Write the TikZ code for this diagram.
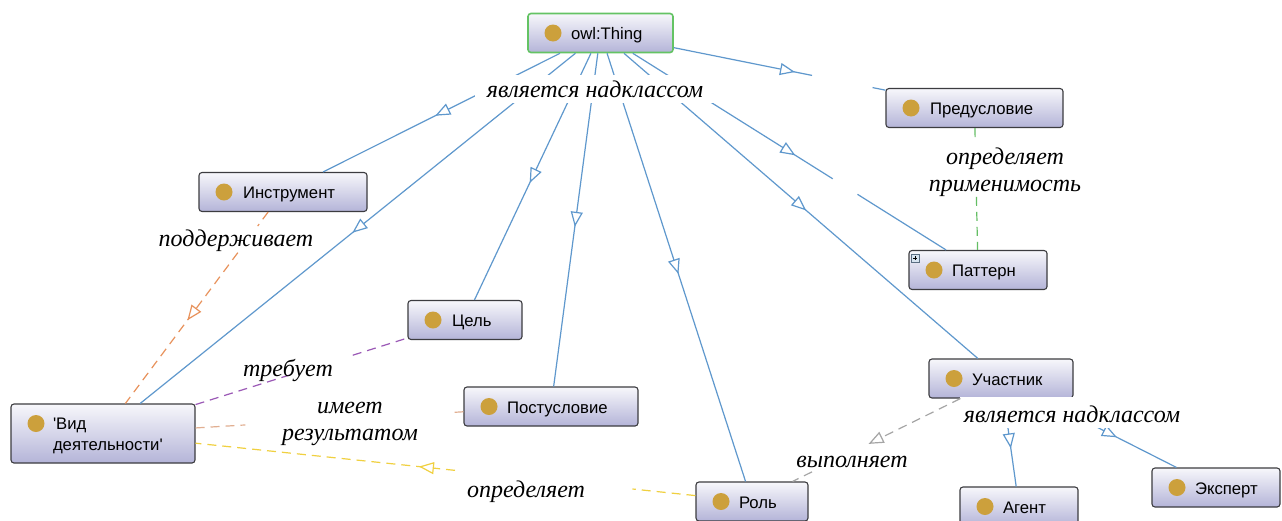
\documentclass[tikz,border=0pt]{standalone}
\usepackage{fontspec}
\setmainfont{Liberation Serif}
\newfontfamily\clsfont{Liberation Sans}
\usetikzlibrary{arrows.meta,decorations.markings,calc}
\definecolor{edgeblue}{RGB}{95,152,205}
\definecolor{boxtop}{RGB}{247,247,251}
\definecolor{boxbot}{RGB}{180,180,216}
\definecolor{boxline}{RGB}{60,60,64}
\definecolor{gold}{RGB}{204,160,60}
\definecolor{thinggreen}{RGB}{100,195,100}
\definecolor{eorange}{RGB}{232,146,92}
\definecolor{epurple}{RGB}{155,89,182}
\definecolor{etan}{RGB}{225,175,145}
\definecolor{eyellow}{RGB}{240,208,64}
\definecolor{egray}{RGB}{165,165,165}
\definecolor{egreen}{RGB}{100,190,100}
\definecolor{plusfill}{RGB}{215,228,240}
\definecolor{plusline}{RGB}{90,110,130}
\tikzset{
  cls/.style={draw=boxline, line width=1.1pt, rounded corners=3pt,
    top color=boxtop, bottom color=boxbot,
    inner xsep=0pt, inner ysep=0pt, minimum height=39pt,
    text width=#1, align=left, text height=17pt, text depth=4pt,
    font=\clsfont\fontsize{16.7}{21}\selectfont,
    path picture={\fill[gold] ($(path picture bounding box.north west)+(25,19.5)$) circle (8.5pt);}},
  opentip/.tip={Triangle[open, fill=white, length=15pt, width=12pt]},
  sub/.style={color=edgeblue, line width=1.2pt, postaction={decorate},
    decoration={markings, mark=at position #1 with {\arrow{opentip}}}},
  sub/.default=0.5,
  submid/.style={color=edgeblue, line width=1.2pt, postaction={decorate},
    decoration={markings, mark=at position 0.5 with {\pgftransformxshift{7pt}\arrow{opentip}}}},
  bline/.style={color=edgeblue, line width=1.2pt},
  dsh/.style={line width=1.2pt, dash pattern=on 9pt off 6pt},
  darr/.style={postaction={decorate},
    decoration={markings, mark=at position #1 with {\arrow{opentip}}}},
  lab/.style={font=\itshape\fontsize{24}{27}\selectfont, inner sep=0pt, align=center},
}
\begin{document}
\begin{tikzpicture}[x=1pt, y=-1pt]
\useasboundingbox (0,0) rectangle (1282,520);
\clip (0,0) rectangle (1282,520);
\fill[white] (0,0) rectangle (1282,520);

% classes
\node[cls=145pt, draw=thinggreen, line width=1.6pt] (thing) at (600.5,33) {\hspace*{43pt}owl:Thing};
\node[cls=177pt] (pre) at (974.5,108) {\hspace*{44pt}Предусловие};
\node[cls=168pt] (instr) at (283,192) {\hspace*{44pt}Инструмент};
\node[cls=138pt] (pattern) at (978,270) {\hspace*{43pt}Паттерн};
\node[cls=114pt] (goal) at (465,320) {\hspace*{44pt}Цель};
\node[cls=174pt] (post) at (551,406.5) {\hspace*{43pt}Постусловие};
\node[cls=184pt, minimum height=59pt, text depth=25pt] (vid) at (103,433.5) {\hspace*{42pt}'Вид\\\hspace*{42pt}деятельности'};
\node[cls=144pt] (part) at (1001,378.5) {\hspace*{43pt}Участник};
\node[cls=112pt] (role) at (752,501.5) {\hspace*{43pt}Роль};
\node[cls=118pt] (agent) at (1019,506.5) {\hspace*{43pt}Агент};
\node[cls=128pt] (expert) at (1216,487.5) {\hspace*{43pt}Эксперт};

% expand box on Паттерн
\draw[draw=plusline, fill=plusfill, line width=0.6pt] ($(pattern.north west)+(3,4)$) rectangle +(8,8);
\draw[line width=0.9pt, black] ($(pattern.north west)+(5,8)$) -- +(4,0) ($(pattern.north west)+(7,6)$) -- +(0,4);

% subclass edges from owl:Thing
\draw[submid] (thing) -- (instr);
\draw[submid] (thing) -- (vid);
\draw[submid] (thing) -- (goal);
\draw[submid] (thing) -- (post);
\draw[submid] (thing) -- (role);
\draw[submid] (thing) -- (part);
\path (thing) -- (pattern) coordinate[pos=0.638] (tp1) coordinate[pos=0.717] (tp2);
\draw[sub=0.813] (thing) -- (tp1);
\draw[bline] (tp2) -- (pattern);
\path (thing) -- (pre) coordinate[pos=0.653] (tq1) coordinate[pos=0.939] (tq2);
\draw[sub=0.877] (thing) -- (tq1);
\draw[bline] (tq2) -- (pre);

% subclass edges from Участник
\draw[sub=0.567] (part) -- (agent);
\draw[sub=0.562] (part) -- (expert);

% labels that hide lines
\node[lab, fill=white, inner xsep=12pt, text height=22pt, text depth=6pt, anchor=base] (ltop) at (595,97) {является надклассом};
\node[lab, fill=white, inner xsep=4pt, inner ysep=1pt, text height=24pt, text depth=5pt, anchor=base] (lbot) at (1072,422) {является надклассом};

% object property edges
\path (instr) -- (vid) coordinate[pos=0.073] (o1) coordinate[pos=0.212] (o2);
\draw[dsh, eorange] (instr) -- (o1);
\draw[dsh, eorange, darr=0.448] (o2) -- (vid);

\path (vid) -- (goal) coordinate[pos=0.46] (p1) coordinate[pos=0.742] (p2);
\draw[dsh, epurple] (vid) -- (p1);
\draw[dsh, epurple] (p2) -- (goal);

\path (vid) -- (post) coordinate[pos=0.186] (t1) coordinate[pos=0.967] (t2);
\draw[dsh, etan] (vid) -- (t1);
\draw[dsh, etan] (t2) -- (post);

\path (role) -- (vid) coordinate[pos=0.126] (y1) coordinate[pos=0.481] (y2);
\draw[dsh, eyellow] (role) -- (y1);
\draw[dsh, eyellow, darr=0.139] (y2) -- (vid);

\path (part) -- (role) coordinate[pos=0.559] (g1) coordinate[pos=0.884] (g2);
\draw[dsh, egray, darr=0.98] (part) -- (g1);
\draw[dsh, egray] (g2) -- (role);

\path (pre) -- (pattern) coordinate[pos=0.089] (e1) coordinate[pos=0.565] (e2);
\draw[dsh, egreen] (pre) -- (e1);
\draw[dsh, egreen] (e2) -- (pattern);

% other labels (base = baseline of last line)
\node[lab, anchor=base] (lapp) at (1005,191) {определяет\\применимость};
\node[lab, anchor=base] (lsup) at (236,246) {поддерживает};
\node[lab, anchor=base] (lreq) at (288,376) {требует};
\node[lab, anchor=base] (lres) at (350,440) {имеет\\результатом};
\node[lab, anchor=base] (ldef) at (526,497) {определяет};
\node[lab, anchor=base] (lperf) at (852,467) {выполняет};
\end{tikzpicture}
\end{document}
